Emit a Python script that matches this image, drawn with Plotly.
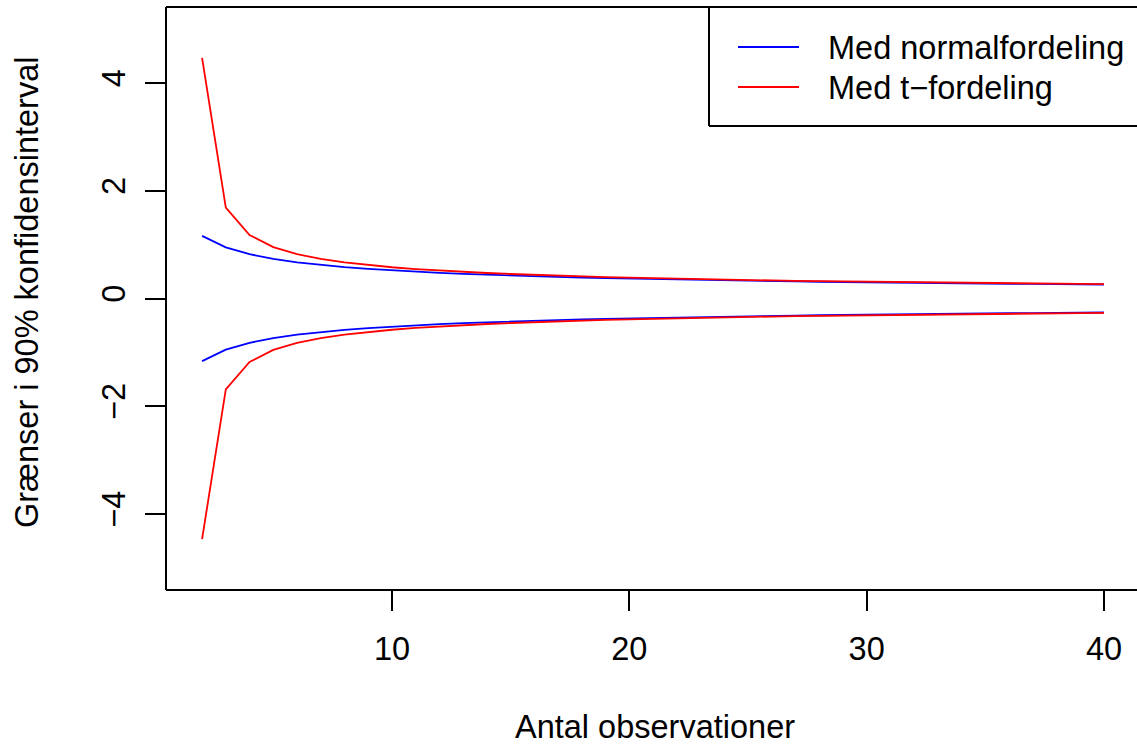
import plotly.graph_objects as go

# ---- data ----
n_obs = list(range(2, 41))
normal_upper = [1.163, 0.950, 0.822, 0.736, 0.672, 0.622, 0.582, 0.548, 0.520, 0.496,
                0.475, 0.456, 0.440, 0.425, 0.411, 0.399, 0.388, 0.377, 0.368, 0.359,
                0.351, 0.343, 0.336, 0.329, 0.323, 0.317, 0.311, 0.305, 0.300, 0.295,
                0.291, 0.286, 0.282, 0.278, 0.274, 0.270, 0.267, 0.263, 0.260]
normal_lower = [-1.163, -0.950, -0.822, -0.736, -0.672, -0.622, -0.582, -0.548, -0.520, -0.496,
                -0.475, -0.456, -0.440, -0.425, -0.411, -0.399, -0.388, -0.377, -0.368, -0.359,
                -0.351, -0.343, -0.336, -0.329, -0.323, -0.317, -0.311, -0.305, -0.300, -0.295,
                -0.291, -0.286, -0.282, -0.278, -0.274, -0.270, -0.267, -0.263, -0.260]
t_upper = [4.465, 1.686, 1.177, 0.953, 0.823, 0.734, 0.670, 0.620, 0.580, 0.546,
           0.518, 0.494, 0.473, 0.455, 0.438, 0.423, 0.410, 0.398, 0.387, 0.376,
           0.367, 0.358, 0.350, 0.342, 0.335, 0.328, 0.322, 0.316, 0.310, 0.305,
           0.300, 0.295, 0.290, 0.286, 0.282, 0.278, 0.274, 0.270, 0.266]
t_lower = [-4.465, -1.686, -1.177, -0.953, -0.823, -0.734, -0.670, -0.620, -0.580, -0.546,
           -0.518, -0.494, -0.473, -0.455, -0.438, -0.423, -0.410, -0.398, -0.387, -0.376,
           -0.367, -0.358, -0.350, -0.342, -0.335, -0.328, -0.322, -0.316, -0.310, -0.305,
           -0.300, -0.295, -0.290, -0.286, -0.282, -0.278, -0.274, -0.270, -0.266]

x_ticks = [10, 20, 30, 40]
y_ticks = [-4, -2, 0, 2, 4]
y_ticktext = ["\u22124", "\u22122", "0", "2", "4"]
legend_labels = ["Med normalfordeling", "Med t\u2212fordeling"]
colors = ["#0000FF", "#FF0000"]

# ---- layout geometry (pixels) ----
W, H = 1137, 746
L, R, T, B = 166, 1137, 7, 590
FONT = "Liberation Sans, Arial, sans-serif"
FS = 32.5


def px(xp):
    return (xp - L) / (R - L)


def py(yp):
    return (B - yp) / (B - T)


fig = go.Figure()
for xs, col in [(normal_upper, colors[0]), (normal_lower, colors[0]),
                (t_upper, colors[1]), (t_lower, colors[1])]:
    fig.add_trace(go.Scatter(x=n_obs, y=xs, mode="lines",
                             line=dict(color=col, width=1.8), showlegend=False,
                             hoverinfo="skip"))

shapes = [
    # plot box (right edge falls outside the image)
    dict(type="line", xref="paper", yref="paper", x0=0, x1=1.05, y0=1, y1=1,
         line=dict(color="black", width=2)),
    dict(type="line", xref="paper", yref="paper", x0=0, x1=1.05, y0=0, y1=0,
         line=dict(color="black", width=2)),
    dict(type="line", xref="paper", yref="paper", x0=0, x1=0, y0=0, y1=1,
         line=dict(color="black", width=2)),
    # legend box
    dict(type="line", xref="paper", yref="paper", x0=px(709), x1=px(709), y0=py(126), y1=1,
         line=dict(color="black", width=2)),
    dict(type="line", xref="paper", yref="paper", x0=px(709), x1=1.05, y0=py(126), y1=py(126),
         line=dict(color="black", width=2)),
]
annotations = []
for i, (lab, col) in enumerate(zip(legend_labels, colors)):
    yl = [47, 87][i]
    shapes.append(dict(type="line", xref="paper", yref="paper", x0=px(738), x1=px(799),
                       y0=py(yl), y1=py(yl), line=dict(color=col, width=2)))
    annotations.append(dict(text=lab, xref="paper", yref="paper", x=px(826), y=py(yl + 1),
                            xanchor="left", yanchor="middle", showarrow=False,
                            font=dict(family=FONT, size=FS, color="black")))

annotations.append(dict(text="Antal observationer", xref="paper", yref="paper",
                        x=px(655), y=py(727), xanchor="center", yanchor="middle",
                        showarrow=False, font=dict(family=FONT, size=FS, color="black")))
annotations.append(dict(text="Gr\u00e6nser i 90% konfidensinterval", xref="paper", yref="paper",
                        x=px(27), y=py(293), xanchor="center", yanchor="middle", textangle=-90,
                        showarrow=False, font=dict(family=FONT, size=FS, color="black")))

fig.update_layout(
    width=W, height=H,
    margin=dict(l=L, r=W - R, t=T, b=H - B, pad=0),
    paper_bgcolor="white", plot_bgcolor="white",
    showlegend=False,
    shapes=shapes, annotations=annotations,
    font=dict(family=FONT, size=FS, color="black"),
    xaxis=dict(range=[0.48, 41.39], tickvals=x_ticks, ticks="outside", ticklen=20,
               tickwidth=2, tickcolor="black", showgrid=False, zeroline=False,
               showline=False, ticklabelstandoff=10,
               tickfont=dict(family=FONT, size=FS, color="black")),
    yaxis=dict(range=[-5.41, 5.41], tickvals=y_ticks, ticktext=y_ticktext, ticks="outside",
               ticklen=20, tickwidth=2, tickcolor="black", showgrid=False, zeroline=False,
               showline=False, tickangle=-90, ticklabelstandoff=7,
               tickfont=dict(family=FONT, size=FS, color="black")),
)

fig.write_html(
    "out.html",
    config={"displayModeBar": False},
    post_script="document.body.style.margin='0';document.body.style.overflow='hidden';",
)
